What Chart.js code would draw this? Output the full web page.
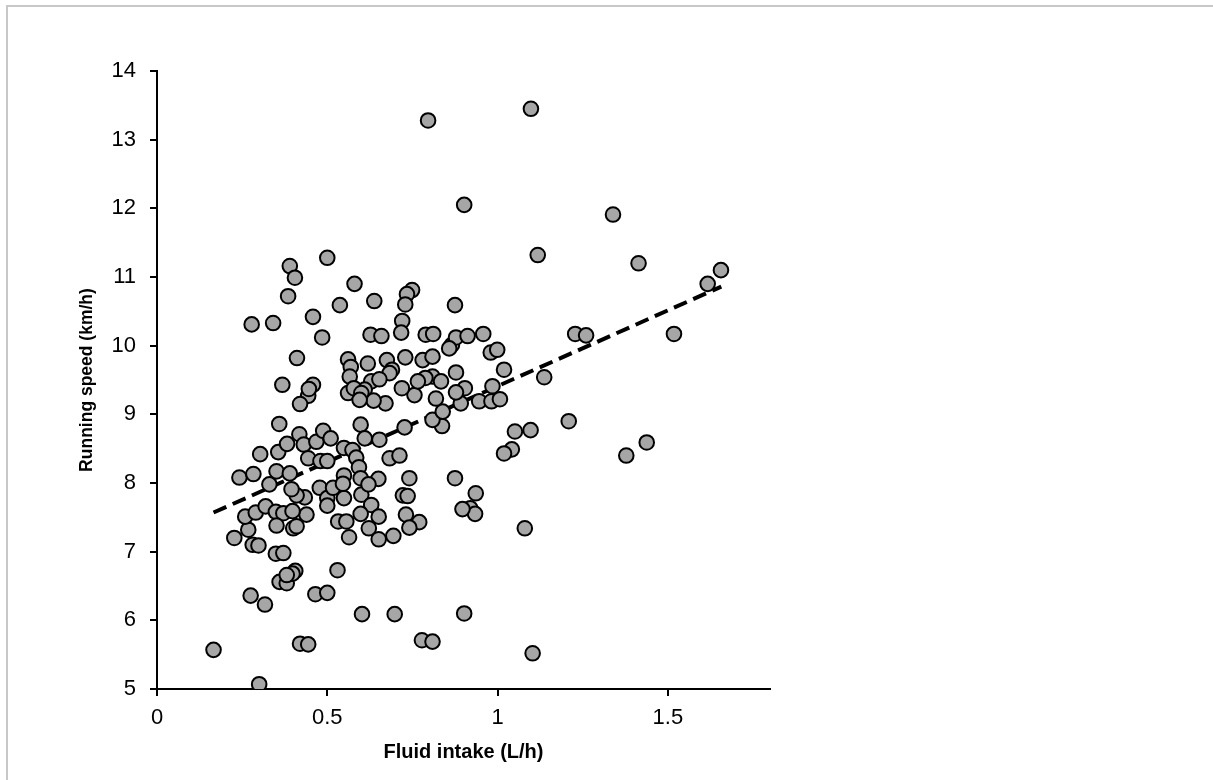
<!DOCTYPE html>
<html>
<head>
<meta charset="utf-8">
<script src="https://cdn.jsdelivr.net/npm/chart.js@4/dist/chart.umd.min.js"></script>
<style>
  html, body { margin: 0; padding: 0; background: #fff; }
  #wrap { position: relative; width: 1213px; height: 780px; overflow: hidden; background: #fff; }
  #frame { position: absolute; left: 6px; top: 5px; width: 1230px; height: 800px;
           border-top: 2px solid #c8c8c8; border-left: 2px solid #c8c8c8; box-sizing: border-box; }
  canvas { position: absolute; left: 0; top: 0; }
</style>
</head>
<body>
<div id="wrap">
  <div id="frame"></div>
  <canvas id="chart" width="1213" height="780"></canvas>
</div>
<script>
// Fluid intake (L/h) per runner
const fluidIntake = [
  0.796, 1.098, 0.902, 1.339, 1.118, 1.414, 1.656, 1.617, 0.390, 0.405,
  0.500, 0.385, 0.580, 0.278, 0.341, 0.458, 0.537, 0.638, 0.749, 0.734,
  0.729, 0.875, 0.485, 0.720, 0.717, 0.627, 0.659, 0.789, 0.811, 0.866,
  0.878, 0.912, 0.958, 0.980, 0.999, 1.019, 1.137, 1.228, 1.260, 1.518,
  0.411, 0.561, 0.569, 0.619, 0.675, 0.690, 0.729, 0.780, 0.809, 0.878,
  0.368, 0.458, 0.858, 0.985, 0.904, 0.946, 0.982, 1.007, 0.892, 1.209,
  1.051, 1.097, 1.042, 1.019, 1.438, 1.378, 0.875, 0.936, 0.920, 0.934,
  0.897, 1.080, 0.902, 1.103, 0.166, 0.300, 0.420, 0.444, 0.275, 0.317,
  0.465, 0.500, 0.602, 0.698, 0.778, 0.809, 0.530, 0.360, 0.381, 0.406,
  0.398, 0.381, 0.349, 0.371, 0.227, 0.281, 0.298, 0.268, 0.259, 0.290,
  0.319, 0.349, 0.371, 0.351, 0.400, 0.410, 0.439, 0.398, 0.434, 0.410,
  0.395, 0.330, 0.351, 0.390, 0.242, 0.283, 0.303, 0.356, 0.382, 0.418,
  0.431, 0.444, 0.468, 0.488, 0.510, 0.359, 0.480, 0.500, 0.478, 0.500,
  0.500, 0.549, 0.517, 0.549, 0.549, 0.574, 0.585, 0.593, 0.598, 0.600,
  0.629, 0.651, 0.598, 0.532, 0.556, 0.564, 0.622, 0.651, 0.694, 0.650,
  0.598, 0.610, 0.653, 0.683, 0.712, 0.727, 0.741, 0.722, 0.736, 0.731,
  0.770, 0.741, 0.837, 0.809, 0.839, 0.819, 0.756, 0.719, 0.809, 0.788,
  0.834, 0.629, 0.610, 0.566, 0.561, 0.671, 0.636, 0.683, 0.653, 0.444,
  0.420, 0.766, 0.878, 0.546, 0.621, 0.446, 0.578, 0.600, 0.595
];

// Running speed (km/h) per runner, same order as fluidIntake
const runningSpeed = [
  13.28, 13.45, 12.05, 11.91, 11.32, 11.20, 11.10, 10.90, 11.16, 10.99,
  11.28, 10.72, 10.90, 10.31, 10.33, 10.42, 10.59, 10.65, 10.81, 10.75,
  10.60, 10.59, 10.12, 10.36, 10.19, 10.16, 10.14, 10.16, 10.17, 10.01,
  10.12, 10.14, 10.17,  9.90,  9.94,  9.65,  9.54, 10.17, 10.15, 10.17,
   9.82,  9.80,  9.69,  9.74,  9.79,  9.65,  9.83,  9.79,  9.84,  9.61,
   9.43,  9.43,  9.96,  9.41,  9.38,  9.19,  9.19,  9.22,  9.16,  8.90,
   8.75,  8.77,  8.49,  8.43,  8.59,  8.40,  8.07,  7.85,  7.63,  7.55,
   7.62,  7.34,  6.10,  5.52,  5.57,  5.07,  5.66,  5.65,  6.36,  6.23,
   6.38,  6.40,  6.09,  6.09,  5.71,  5.69,  6.73,  6.56,  6.54,  6.72,
   6.68,  6.66,  6.97,  6.98,  7.20,  7.10,  7.09,  7.32,  7.51,  7.57,
   7.66,  7.58,  7.56,  7.38,  7.34,  7.37,  7.54,  7.59,  7.79,  7.82,
   7.91,  7.98,  8.17,  8.14,  8.08,  8.13,  8.42,  8.45,  8.57,  8.71,
   8.56,  8.36,  8.60,  8.76,  8.65,  8.86,  8.32,  8.32,  7.93,  7.78,
   7.67,  7.78,  7.93,  8.11,  8.51,  8.48,  8.37,  8.23,  8.07,  7.83,
   7.68,  7.51,  7.55,  7.44,  7.44,  7.21,  7.34,  7.18,  7.23,  8.06,
   8.85,  8.65,  8.63,  8.36,  8.40,  8.81,  8.07,  7.82,  7.81,  7.54,
   7.43,  7.35,  8.83,  8.92,  9.04,  9.23,  9.28,  9.38,  9.55,  9.53,
   9.48,  9.48,  9.36,  9.55,  9.31,  9.16,  9.20,  9.60,  9.51,  9.27,
   9.15,  9.48,  9.32,  7.99,  7.98,  9.37,  9.38,  9.31,  9.21
];

// Linear trend line end points
const trendIntake = [0.166, 1.657];
const trendSpeed = [7.57, 10.86];

// Axis tick values
const xTickValues = [0, 0.5, 1, 1.5];
const yTickValues = [5, 6, 7, 8, 9, 10, 11, 12, 13, 14];

const scatterPoints = fluidIntake.map((x, i) => ({ x: x, y: runningSpeed[i] }));
const trendPoints = trendIntake.map((x, i) => ({ x: x, y: trendSpeed[i] }));

Chart.defaults.font.family = "'Liberation Sans', Arial, sans-serif";
Chart.defaults.color = '#000';

new Chart(document.getElementById('chart'), {
  type: 'scatter',
  data: {
    datasets: [
      {
        label: 'Runners',
        data: scatterPoints,
        order: 0,
        pointRadius: 7.3,
        pointHoverRadius: 7.3,
        pointBackgroundColor: '#a6a6a6',
        pointBorderColor: '#000',
        pointBorderWidth: 2,
        showLine: false
      },
      {
        label: 'Trend',
        type: 'line',
        data: trendPoints,
        order: 1,
        showLine: true,
        borderColor: '#000',
        borderWidth: 4,
        borderDash: [14, 7],
        borderCapStyle: 'butt',
        pointRadius: 0,
        fill: false
      }
    ]
  },
  options: {
    responsive: false,
    devicePixelRatio: 1,
    animation: false,
    events: [],
    layout: { padding: { left: 0, top: 71, right: 443, bottom: 0 } },
    plugins: {
      legend: { display: false },
      tooltip: { enabled: false }
    },
    scales: {
      x: {
        type: 'linear',
        position: 'bottom',
        min: 0,
        max: 1.8,
        afterBuildTicks: (scale) => { scale.ticks = xTickValues.map(v => ({ value: v })); },
        afterFit: (scale) => { scale.height = 91; },
        border: { display: true, color: '#000', width: 2 },
        grid: { display: true, drawOnChartArea: false, drawTicks: true, tickLength: 7, color: '#000', lineWidth: 2 },
        ticks: {
          padding: 9,
          font: { size: 22 },
          color: '#000',
          maxRotation: 0,
          autoSkip: false,
          callback: (v) => String(v)
        },
        title: {
          display: true,
          text: 'Fluid intake (L/h)',
          font: { size: 20, weight: 'bold' },
          color: '#000',
          padding: { top: 0, bottom: 16 }
        }
      },
      y: {
        type: 'linear',
        position: 'left',
        min: 5,
        max: 14,
        afterBuildTicks: (scale) => { scale.ticks = yTickValues.map(v => ({ value: v })); },
        afterFit: (scale) => { scale.width = 157; },
        border: { display: true, color: '#000', width: 2 },
        grid: { display: true, drawOnChartArea: false, drawTicks: true, tickLength: 7, color: '#000', lineWidth: 2 },
        ticks: {
          padding: 14,
          font: { size: 22 },
          color: '#000',
          autoSkip: false,
          callback: (v) => String(v)
        },
        title: {
          display: true,
          text: 'Running speed (km/h)',
          font: { size: 17.5, weight: 'bold' },
          color: '#000',
          padding: { top: 77, bottom: 0 }
        }
      }
    }
  }
});
</script>
</body>
</html>
